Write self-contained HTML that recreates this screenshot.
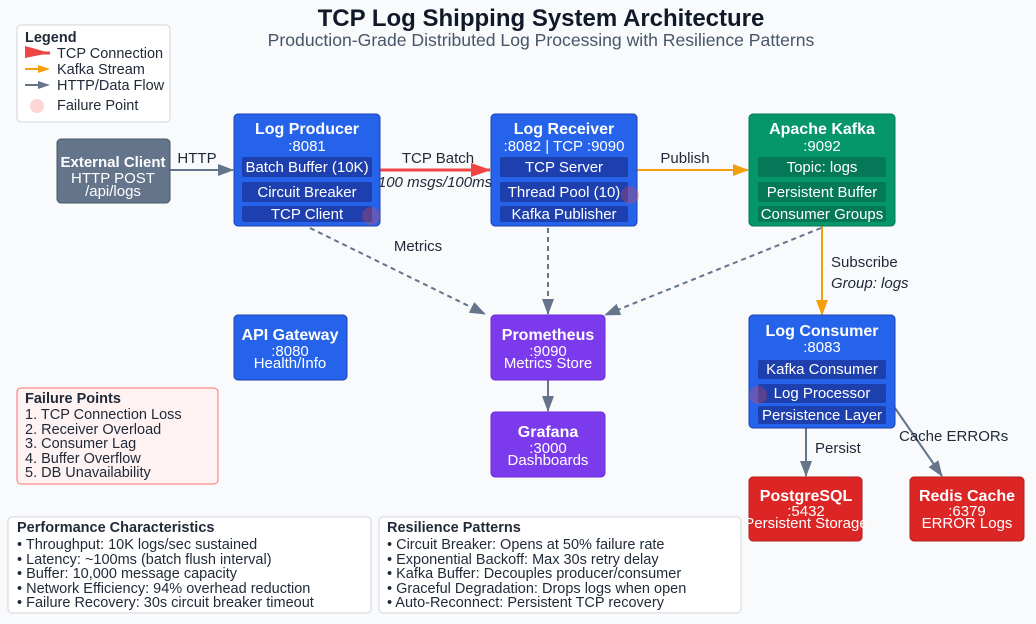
<!DOCTYPE html>
<html><head><meta charset="utf-8"><style>
html,body{margin:0;padding:0;background:#f8fafc;}
svg{display:block;font-family:"Liberation Sans",Arial,sans-serif;}
.w{fill:#fff;text-anchor:middle;}
.b{font-weight:bold;}
.d{fill:#1f2937;}
</style></head><body>
<svg width="1036" height="624" viewBox="0 0 1036 624" xmlns="http://www.w3.org/2000/svg">
<defs>
<marker id="ag2" markerWidth="16" markerHeight="12" refX="15" refY="6" orient="auto" markerUnits="userSpaceOnUse"><path d="M0,0 L16,6 L0,12 Z" fill="#64748b"/></marker>
<marker id="ao" markerWidth="16" markerHeight="12" refX="15" refY="6" orient="auto" markerUnits="userSpaceOnUse"><path d="M0,0 L16,6 L0,12 Z" fill="#f59e0b"/></marker>
<marker id="ar" markerWidth="20" markerHeight="14" refX="19" refY="7" orient="auto" markerUnits="userSpaceOnUse"><path d="M0,0 L20,7 L0,14 Z" fill="#ef4444"/></marker>
</defs>
<rect width="1036" height="624" fill="#f8fafc"/>
<text x="541" y="26" text-anchor="middle" class="b" font-size="24" fill="#111827">TCP Log Shipping System Architecture</text>
<text x="541" y="46" text-anchor="middle" font-size="17.6" fill="#475569">Production-Grade Distributed Log Processing with Resilience Patterns</text>

<!-- legend -->
<rect x="17" y="25" width="153" height="97" rx="4" fill="#fff" stroke="#d1d5db"/>
<text x="25" y="42" font-size="14.5" class="b d">Legend</text>
<path d="M25,53 L50,53" stroke="#ef4444" stroke-width="3"/><path d="M25,46 L50,53 L25,58 Z" fill="#ef4444"/>
<text x="57" y="58" font-size="14.5" class="d">TCP Connection</text>
<path d="M25,69 L42,69" stroke="#f59e0b" stroke-width="2"/><path d="M38,65 L50,69 L38,73 Z" fill="#f59e0b"/>
<text x="57" y="74" font-size="14.5" class="d">Kafka Stream</text>
<path d="M25,85 L42,85" stroke="#64748b" stroke-width="2"/><path d="M38,81 L50,85 L38,89 Z" fill="#64748b"/>
<text x="57" y="90" font-size="14.5" class="d">HTTP/Data Flow</text>
<circle cx="37" cy="106" r="7" fill="#fecaca" opacity="0.8"/>
<text x="57" y="110" font-size="14.5" class="d">Failure Point</text>

<!-- connectors -->
<line x1="170" y1="170" x2="233" y2="170" stroke="#64748b" stroke-width="2" marker-end="url(#ag2)"/>
<text x="197" y="163" text-anchor="middle" font-size="15" class="d">HTTP</text>
<line x1="380" y1="170" x2="490" y2="170" stroke="#ef4444" stroke-width="3" marker-end="url(#ar)"/>
<text x="438" y="163" text-anchor="middle" font-size="15" class="d">TCP Batch</text>
<text x="435" y="187" text-anchor="middle" font-size="15" font-style="italic" class="d">100 msgs/100ms</text>
<line x1="637" y1="170" x2="748" y2="170" stroke="#f59e0b" stroke-width="2" marker-end="url(#ao)"/>
<text x="685" y="163" text-anchor="middle" font-size="15" class="d">Publish</text>
<line x1="310" y1="228" x2="485" y2="314" stroke="#64748b" stroke-width="2" stroke-dasharray="5,4" marker-end="url(#ag2)"/>
<text x="418" y="251" text-anchor="middle" font-size="15" class="d">Metrics</text>
<line x1="548" y1="228" x2="548" y2="314" stroke="#64748b" stroke-width="2" stroke-dasharray="5,4" marker-end="url(#ag2)"/>
<line x1="821" y1="228" x2="605" y2="315" stroke="#64748b" stroke-width="2" stroke-dasharray="5,4" marker-end="url(#ag2)"/>
<line x1="822" y1="226" x2="822" y2="315" stroke="#f59e0b" stroke-width="2" marker-end="url(#ao)"/>
<text x="831" y="267" font-size="15" class="d">Subscribe</text>
<text x="831" y="288" font-size="15" font-style="italic" class="d">Group: logs</text>
<line x1="548" y1="380" x2="548" y2="411" stroke="#64748b" stroke-width="2" marker-end="url(#ag2)"/>
<line x1="806" y1="428" x2="806" y2="476" stroke="#64748b" stroke-width="2" marker-end="url(#ag2)"/>
<text x="815" y="453" font-size="15" class="d">Persist</text>
<line x1="895" y1="408" x2="942" y2="476" stroke="#64748b" stroke-width="2" marker-end="url(#ag2)"/>
<text x="899" y="441" font-size="15" class="d">Cache ERRORs</text>

<!-- External Client -->
<rect x="57" y="139" width="113" height="64" rx="4" fill="#64748b" stroke="#475569"/>
<text x="113" y="167" class="w b" font-size="15">External Client</text>
<text x="113" y="183" class="w" font-size="15">HTTP POST</text>
<text x="113" y="196" class="w" font-size="15">/api/logs</text>

<!-- Log Producer -->
<rect x="234" y="114" width="146" height="112" rx="4" fill="#2563eb" stroke="#1e40af"/>
<text x="307" y="134" class="w b" font-size="16">Log Producer</text>
<text x="307" y="151" class="w" font-size="15">:8081</text>
<rect x="242" y="157" width="130" height="20" rx="2" fill="#1e40af"/>
<text x="307" y="172" class="w" font-size="15">Batch Buffer (10K)</text>
<rect x="242" y="182" width="130" height="20" rx="2" fill="#1e40af"/>
<text x="307" y="197" class="w" font-size="15">Circuit Breaker</text>
<rect x="242" y="206" width="130" height="16" rx="2" fill="#1e40af"/>
<text x="307" y="219" class="w" font-size="15">TCP Client</text>

<!-- Log Receiver -->
<rect x="491" y="114" width="146" height="112" rx="4" fill="#2563eb" stroke="#1e40af"/>
<text x="564" y="134" class="w b" font-size="16">Log Receiver</text>
<text x="564" y="151" class="w" font-size="15">:8082 | TCP :9090</text>
<rect x="500" y="157" width="128" height="20" rx="2" fill="#1e40af"/>
<text x="564" y="172" class="w" font-size="15">TCP Server</text>
<rect x="500" y="182" width="128" height="20" rx="2" fill="#1e40af"/>
<text x="564" y="197" class="w" font-size="15">Thread Pool (10)</text>
<rect x="500" y="206" width="128" height="16" rx="2" fill="#1e40af"/>
<text x="564" y="219" class="w" font-size="15">Kafka Publisher</text>

<!-- Kafka -->
<rect x="749" y="114" width="146" height="112" rx="4" fill="#059669" stroke="#047857"/>
<text x="822" y="134" class="w b" font-size="16">Apache Kafka</text>
<text x="822" y="151" class="w" font-size="15">:9092</text>
<rect x="758" y="157" width="128" height="20" rx="2" fill="#047857"/>
<text x="822" y="172" class="w" font-size="15">Topic: logs</text>
<rect x="758" y="182" width="128" height="20" rx="2" fill="#047857"/>
<text x="822" y="197" class="w" font-size="15">Persistent Buffer</text>
<rect x="758" y="206" width="128" height="16" rx="2" fill="#047857"/>
<text x="822" y="219" class="w" font-size="15">Consumer Groups</text>

<!-- API Gateway -->
<rect x="234" y="315" width="113" height="65" rx="4" fill="#2563eb" stroke="#1e40af"/>
<text x="290" y="340" class="w b" font-size="16">API Gateway</text>
<text x="290" y="356" class="w" font-size="15">:8080</text>
<text x="290" y="368" class="w" font-size="15">Health/Info</text>

<!-- Prometheus -->
<rect x="491" y="315" width="114" height="65" rx="4" fill="#7c3aed" stroke="#6d28d9"/>
<text x="548" y="340" class="w b" font-size="16">Prometheus</text>
<text x="548" y="356" class="w" font-size="15">:9090</text>
<text x="548" y="368" class="w" font-size="15">Metrics Store</text>

<!-- Grafana -->
<rect x="491" y="412" width="114" height="65" rx="4" fill="#7c3aed" stroke="#6d28d9"/>
<text x="548" y="437" class="w b" font-size="16">Grafana</text>
<text x="548" y="453" class="w" font-size="15">:3000</text>
<text x="548" y="465" class="w" font-size="15">Dashboards</text>

<!-- Log Consumer -->
<rect x="749" y="315" width="146" height="113" rx="4" fill="#2563eb" stroke="#1e40af"/>
<text x="822" y="336" class="w b" font-size="16">Log Consumer</text>
<text x="822" y="352" class="w" font-size="15">:8083</text>
<rect x="758" y="360" width="128" height="19" rx="2" fill="#1e40af"/>
<text x="822" y="374" class="w" font-size="15">Kafka Consumer</text>
<rect x="758" y="384" width="128" height="19" rx="2" fill="#1e40af"/>
<text x="822" y="398" class="w" font-size="15">Log Processor</text>
<rect x="758" y="406" width="128" height="18" rx="2" fill="#1e40af"/>
<text x="822" y="420" class="w" font-size="15">Persistence Layer</text>

<!-- PostgreSQL -->
<rect x="749" y="477" width="113" height="64" rx="4" fill="#dc2626" stroke="#b91c1c"/>
<text x="806" y="501" class="w b" font-size="16">PostgreSQL</text>
<text x="806" y="516" class="w" font-size="15">:5432</text>
<text x="806" y="528" class="w" font-size="15">Persistent Storage</text>

<!-- Redis -->
<rect x="910" y="477" width="114" height="64" rx="4" fill="#dc2626" stroke="#b91c1c"/>
<text x="967" y="501" class="w b" font-size="16">Redis Cache</text>
<text x="967" y="516" class="w" font-size="15">:6379</text>
<text x="967" y="528" class="w" font-size="15">ERROR Logs</text>

<!-- failure points -->
<circle cx="371" cy="216" r="9" fill="#ef4444" opacity="0.3"/>
<circle cx="630" cy="195" r="9" fill="#ef4444" opacity="0.3"/>
<circle cx="758" cy="395" r="9" fill="#ef4444" opacity="0.3"/>

<!-- Failure points box -->
<rect x="17" y="388" width="201" height="96" rx="4" fill="#fef2f2" stroke="#f87171"/>
<text x="25" y="403" font-size="14.5" class="b d">Failure Points</text>
<g font-size="14.5" class="d">
<text x="25" y="419">1. TCP Connection Loss</text>
<text x="25" y="434">2. Receiver Overload</text>
<text x="25" y="448">3. Consumer Lag</text>
<text x="25" y="463">4. Buffer Overflow</text>
<text x="25" y="477">5. DB Unavailability</text>
</g>

<!-- Performance -->
<rect x="8" y="517" width="363" height="96" rx="4" fill="#fff" stroke="#d1d5db"/>
<text x="17" y="532" font-size="14.5" class="b d">Performance Characteristics</text>
<g font-size="14.5" class="d">
<text x="17" y="549">• Throughput: 10K logs/sec sustained</text>
<text x="17" y="564">• Latency: ~100ms (batch flush interval)</text>
<text x="17" y="578">• Buffer: 10,000 message capacity</text>
<text x="17" y="593">• Network Efficiency: 94% overhead reduction</text>
<text x="17" y="607">• Failure Recovery: 30s circuit breaker timeout</text>
</g>

<!-- Resilience -->
<rect x="379" y="517" width="362" height="96" rx="4" fill="#fff" stroke="#d1d5db"/>
<text x="387" y="532" font-size="14.5" class="b d">Resilience Patterns</text>
<g font-size="14.5" class="d">
<text x="387" y="549">• Circuit Breaker: Opens at 50% failure rate</text>
<text x="387" y="564">• Exponential Backoff: Max 30s retry delay</text>
<text x="387" y="578">• Kafka Buffer: Decouples producer/consumer</text>
<text x="387" y="593">• Graceful Degradation: Drops logs when open</text>
<text x="387" y="607">• Auto-Reconnect: Persistent TCP recovery</text>
</g>
</svg>
</body></html>
